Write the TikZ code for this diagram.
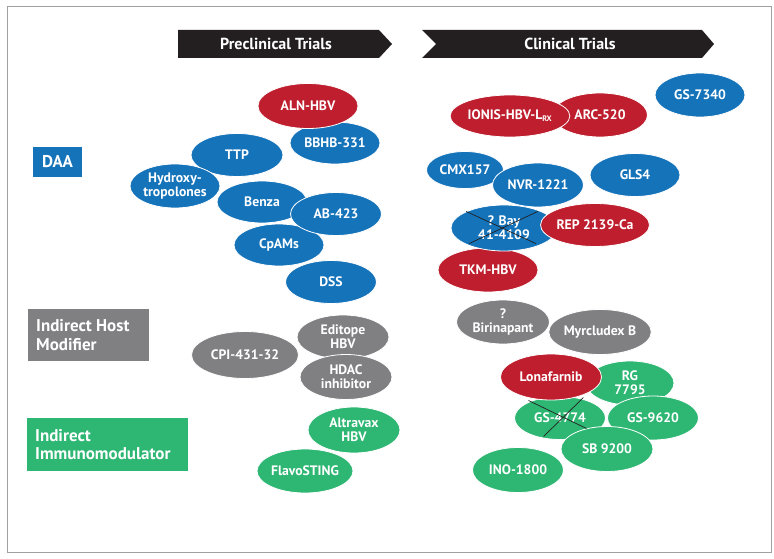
\documentclass[tikz,border=0pt]{standalone}
\usepackage{fontspec}
\setmainfont{PT Sans}
\usetikzlibrary{shapes.geometric,calc}
\definecolor{cblue}{RGB}{21,115,186}
\definecolor{cred}{RGB}{190,30,45}
\definecolor{cgrey}{RGB}{128,128,131}
\definecolor{cgreen}{RGB}{46,182,115}
\definecolor{cframe}{RGB}{160,160,160}
\definecolor{cblack}{RGB}{35,31,32}
\tikzset{
  pill/.style={ellipse, draw=white, line width=0.8pt, inner sep=0pt, text=white,
    font=\fontsize{13.7}{14}\selectfont\bfseries, align=center},
  blu/.style={pill, fill=cblue},
  rd/.style={pill, fill=cred},
  gry/.style={pill, fill=cgrey},
  grn/.style={pill, fill=cgreen},
  sz/.style 2 args={minimum width=#1pt, minimum height=#2pt},
  catbox/.style={anchor=north west, inner sep=0pt, text=white, align=left,
    font=\fontsize{17}{18.5}\selectfont\bfseries},
  header/.style={text=white, font=\fontsize{16}{17}\selectfont\bfseries},
  cross/.style={draw=cblack, line width=0.7pt}
}
\begin{document}
\begin{tikzpicture}[x=1pt,y=-1pt]
\useasboundingbox (0,0) rectangle (774,559);
\draw[cframe, line width=1pt] (7,7) rectangle (771,552);
% headers
\fill[cblack] (178,30) -- (379,30) -- (392,44) -- (379,58) -- (178,58) -- cycle;
\node[header] (pre) at (276,44) {Preclinical Trials};
\fill[cblack] (422,30) -- (702,30) -- (714,44) -- (702,58) -- (422,58) -- (436,44) -- cycle;
\node[header] (cli) at (570,44) {Clinical Trials};
% categories
\fill[cblue] (33,147) rectangle (82,177);
\node[catbox, anchor=center] (daa) at (57.5,162) {DAA};
\fill[cgrey] (28,309) rectangle (149,361);
\node[catbox, anchor=west] (host) at (36,335) {Indirect Host\\Modifier};
\fill[cgreen] (27,418) rectangle (188,471);
\node[catbox, anchor=west] (immu) at (35,444.5) {Indirect\\Immunomodulator};
% preclinical DAA
\node[blu, sz={90}{42}] (bbhb) at (335,143) {BBHB-331};
\node[rd, sz={100}{45}] (aln) at (308,106) {ALN-HBV};
\node[blu, sz={92}{43}] (ttp) at (237,155) {TTP};
\node[blu, sz={90}{44}] (hyd) at (175,186) {Hydroxy-\\tropolones};
\node[blu, sz={90}{42}] (cpam) at (279,245) {CpAMs};
\node[blu, sz={90}{42}] (benza) at (262,202) {Benza};
\node[blu, sz={91}{43}] (ab) at (336,214) {AB-423};
\node[blu, sz={91}{43}] (dss) at (331,282) {DSS};
% clinical DAA
\node[blu, sz={90}{44}] (gs7340) at (700,95) {GS-7340};
\node[rd, sz={95}{44}] (arc) at (600,115) {ARC-520};
\node[rd, sz={109}{42}] (ionis) at (510,116) {IONIS-HBV-L\textsubscript{\fontsize{8}{8}\selectfont RX}};
\node[blu, sz={77}{37}] (cmx) at (465,170) {CMX157};
\node[blu, sz={91}{44}] (nvr) at (538,185) {NVR-1221};
\node[blu, sz={90}{43}] (gls) at (635,175) {GLS4};
\node[rd, sz={100}{44}] (tkm) at (488,270) {TKM-HBV};
\node[blu, sz={106}{46}] (bay) at (504,228) {? Bay\\41-4109};
\node[rd, sz={93}{43}] (rep) at (595,225) {REP 2139-Ca};
\draw[cross] (bay.north west) -- ($(bay.south east)+(-6,-1)$);
\draw[cross] ($(bay.north east)+(-4,0)$) -- ($(bay.south west)+(3,-1)$);
% preclinical host
\node[gry, sz={107}{47}] (cpi) at (245,355) {CPI-431-32};
\node[gry, sz={92}{44}] (edi) at (343,337) {Editope\\HBV};
\node[gry, sz={92}{45}] (hdac) at (346,377) {HDAC\\inhibitor};
% preclinical immuno
\node[grn, sz={92}{46}] (alt) at (354,430) {Altravax\\HBV};
\node[grn, sz={92}{44}] (flavo) at (305,471) {FlavoSTING};
% clinical host
\node[gry, sz={93}{44}] (biri) at (503,322) {?\\Birinapant};
\node[gry, sz={101}{45}] (myr) at (600,332) {Myrcludex B};
% clinical immuno
\node[grn, sz={88}{44}] (rg) at (630,383) {RG\\7795};
\node[grn, sz={91}{43}] (gs4774) at (560,418) {GS-4774};
\node[grn, sz={91}{44}] (gs9620) at (653,418) {GS-9620};
\node[rd, sz={101}{46}] (lona) at (551,377) {Lonafarnib};
\node[grn, sz={92}{45}] (sb) at (607,449) {SB 9200};
\node[grn, sz={91}{45}] (ino) at (518,470) {INO-1800};
\draw[cross] ($(gs4774.north west)+(1,-2)$) -- ($(gs4774.south east)+(-6,-5)$);
\draw[cross] ($(gs4774.north east)+(-9,-5)$) -- ($(gs4774.south west)+(16,3)$);
\end{tikzpicture}
\end{document}
